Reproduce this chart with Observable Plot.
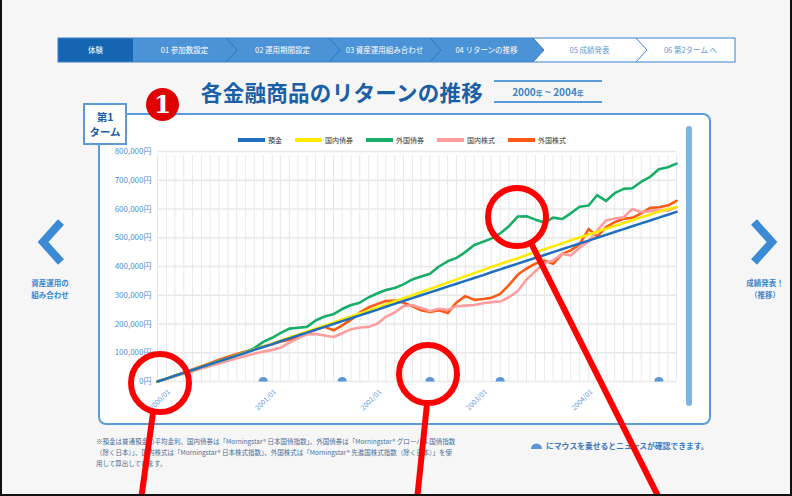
<!DOCTYPE html>
<html><head><meta charset="utf-8">
<script src="https://cdn.jsdelivr.net/npm/d3@7"></script>
<script src="https://cdn.jsdelivr.net/npm/@observablehq/plot@0.6"></script>
<style>
html,body{margin:0;padding:0;}
body{width:792px;height:496px;position:relative;overflow:hidden;background:#f6f6f6;font-family:"Noto Sans CJK JP","Noto Sans",sans-serif;}
.a{position:absolute;}
#frame{left:0;top:0;width:792px;height:496px;box-sizing:border-box;border-left:2px solid #111;border-right:2px solid #111;border-bottom:2px solid #111;pointer-events:none;z-index:50;}
#box{left:98px;top:113px;width:613px;height:312px;box-sizing:border-box;border:2px solid #5b9bd8;border-radius:8px;background:#fff;}
#term{left:83px;top:103px;width:44px;height:42px;box-sizing:border-box;border:2px solid #5b9bd8;background:#fff;color:#1a5fa8;font-weight:700;font-size:10.5px;text-align:center;padding-top:4px;z-index:5;}
#term div{height:15px;line-height:15px;}
#badge{left:146px;top:88px;width:33px;height:33px;border-radius:50%;background:#e10000;color:#fff;font-family:"DejaVu Serif",serif;font-weight:700;font-size:25px;line-height:33px;text-align:center;}
#title{left:196px;top:76px;width:292px;text-align:center;font-size:21.5px;font-weight:700;color:#1b5fa6;letter-spacing:0.3px;line-height:32px;}
#period{left:494px;top:80px;width:108px;height:23px;box-sizing:border-box;border-top:2px solid #5b9bd8;border-bottom:2px solid #5b9bd8;text-align:center;color:#3d85c6;font-weight:700;font-size:10px;line-height:19px;}
#period small{font-size:7px;}
#legend{left:238px;top:135px;display:flex;font-size:7px;color:#333;line-height:10px;}
.li{display:flex;align-items:center;margin-right:13px;}
.sw{width:27px;height:4px;margin-right:3px;}
#chart{left:98px;top:120px;}
#scroll{left:686px;top:126px;width:6px;height:280px;border-radius:3px;background:#7fb3e3;}
.nav-t{font-size:7.5px;color:#3a86cf;font-weight:700;text-align:center;line-height:12px;}
#note{left:96px;top:436px;font-size:6.5px;line-height:11px;color:#4a6f98;white-space:nowrap;}
#hint{left:530px;top:440px;font-size:7.8px;color:#3a78bf;font-weight:700;display:flex;align-items:center;}
</style></head>
<body>
<svg class="a" id="nav" style="left:0;top:0" width="792" height="80"></svg>
<div class="a" id="title">各金融商品のリターンの推移</div>
<div class="a" id="period">2000<small>年</small> ~ 2004<small>年</small></div>
<div class="a" id="box"></div>
<div class="a" id="term"><div>第1</div><div>ターム</div></div>
<div class="a" id="badge">1</div>
<div class="a" id="legend"></div>
<div class="a" id="chart"></div>
<div class="a" id="scroll"></div>
<svg class="a" style="left:30px;top:215px" width="40" height="55"><polyline points="31,7 13,27 31,47" fill="none" stroke="#3b8ad6" stroke-width="8"/></svg>
<div class="a nav-t" style="left:20px;top:277px;width:60px">資産運用の<br>組み合わせ</div>
<svg class="a" style="left:745px;top:215px" width="40" height="55"><polyline points="9,7 27,27 9,47" fill="none" stroke="#3b8ad6" stroke-width="8"/></svg>
<div class="a nav-t" style="left:735px;top:277px;width:60px">成績発表！<br>（推移）</div>
<div class="a" id="note">※預金は普通預金の平均金利、国内債券は「Morningstar® 日本国債指数」、外国債券は「Morningstar® グローバル国債指数<br>（除く日本）」、国内株式は「Morningstar® 日本株式指数」、外国株式は「Morningstar® 先進国株式指数（除く日本）」を使<br>用して算出しています。</div>
<div class="a" id="hint"><svg width="13" height="8" style="margin-right:3px"><path d="M1,7 A5.5,5.5 0 0 1 12,7 Z" fill="#5b96d4"/></svg>にマウスを乗せるとニュースが確認できます。</div>
<svg class="a" id="ann" style="left:0;top:0;z-index:40;pointer-events:none" width="792" height="496"></svg>
<div class="a" id="frame"></div>
<script>
// ---- data (values in thousand yen, monthly 2000/01 – 2004/12) ----
const seriesNames = ["預金", "国内債券", "外国債券", "国内株式", "外国株式"];
const seriesColors = ["#1f6fbf", "#ffea00", "#19ad6a", "#ff9d9d", "#ff5a14"];
const deposit = [0,10,20,30,40,50,60,70,80,90,100,110,120,130,140,150,160,170,180,190,200,210,220,230,240,250,260,270,280,290,300,310,320,330,340,350,360,370,380,390,400,410,420,430,440,450,460,470,480,490,500,510,520,530,540,550,560,570,580,590];
const domesticBond = [0,10,20,30,40,50,60,70,80,91,101,111,122,132,142,153,163,174,184,195,205,216,226,237,247,258,268,279,290,300,311,322,333,344,355,366,377,388,398,409,419,429,440,450,460,470,480,491,501,511,521,531,541,551,561,571,581,591,600,607];
const foreignBond = [0,10,20,30,40,50,61,71,81,91,102,116,138,152,168,184,187,190,212,226,234,252,266,274,293,307,318,325,338,355,365,375,400,418,430,450,475,486,497,515,540,574,575,563,553,570,565,585,608,612,648,628,655,670,672,695,712,738,745,758];
const domesticStock = [0,9,18,27,36,45,54,63,72,81,89,97,104,110,117,135,150,164,165,160,155,168,182,188,190,202,225,240,262,266,256,245,253,249,262,264,266,272,276,278,293,315,355,384,412,421,444,438,465,488,525,560,567,571,600,589,592,597,595,606];
const foreignStock = [0,10,20,31,42,53,64,76,86,96,104,113,122,130,138,145,155,168,180,190,178,195,215,240,258,270,280,282,274,262,248,242,248,238,275,297,284,287,291,305,335,372,393,410,421,409,444,456,478,531,504,537,554,566,569,585,604,606,612,628];
const newsMonths = ["2001/01", "2001/10", "2002/08", "2003/04", "2004/10"];
const yTickValues = [0,100000,200000,300000,400000,500000,600000,700000,800000];
const xLabelMonths = ["2000/01", "2001/01", "2002/01", "2003/01", "2004/01"];

const seriesValues = [deposit, domesticBond, foreignBond, domesticStock, foreignStock];
const parseM = d3.utcParse("%Y/%m");
const dates = d3.utcMonth.range(parseM("2000/01"), parseM("2005/01"));
const table = seriesNames.map((name, k) => seriesValues[k].map((v, i) => ({name, date: dates[i], value: v * 1000})));

// legend
const lg = document.getElementById("legend");
seriesNames.forEach((n, k) => {
  const d = document.createElement("div"); d.className = "li";
  d.innerHTML = `<div class="sw" style="background:${seriesColors[k]}"></div>${n}`;
  lg.appendChild(d);
});

// half circle symbol for news markers
const halfCircle = {draw(ctx, size) { const r = Math.sqrt(size / Math.PI); ctx.moveTo(-r, 0); ctx.arc(0, 0, r, Math.PI, 2 * Math.PI); ctx.closePath(); }};

const axisColor = "#4a8fd6";
const grid = "#e8e8e8";
const chart = Plot.plot({
  width: 600, height: 301,
  marginLeft: 59, marginRight: 22, marginTop: 31, marginBottom: 40,
  x: {type: "utc", domain: [dates[0], dates[59]], axis: null},
  y: {domain: [0, 800000]},
  style: {background: "transparent", fontFamily: "'Noto Sans CJK JP', sans-serif", fontSize: "8px", color: axisColor, overflow: "visible"},
  marks: [
    Plot.ruleX(dates, {y1: 0, y2: 800000, insetBottom: -4, stroke: grid, strokeWidth: 1}),
    Plot.ruleY(yTickValues, {stroke: grid, strokeWidth: 1.5}),
    Plot.axisY(yTickValues, {tickSize: 0, tickPadding: 6, tickFormat: d => d3.format(",")(d) + "円", fill: axisColor, label: null}),
    Plot.text(xLabelMonths.map(parseM), {x: d => d, frameAnchor: "bottom", text: d => d3.utcFormat("%Y/%m")(d), rotate: -45, dy: 20, dx: 4, fill: "#5d9ad8", fontSize: 7}),
    ...[4, 3, 2, 1, 0].map(k => Plot.line(table[k], {x: "date", y: "value", stroke: seriesColors[k], strokeWidth: 2.6})),
    Plot.dot(newsMonths.map(parseM), {x: d => d, y: 0, r: 4.6, fill: "#5b96d4", symbol: halfCircle})
  ]
});
document.getElementById("chart").appendChild(chart);

// breadcrumb navigation
const nav = d3.select("#nav");
const nTop = 38, nBot = 62, nMid = 50, tip = 11;
const segs = [
  {a: 58, b: 133, t: "体験", fill: "#1565b2", col: "#fff", arrow: false},
  {a: 133, b: 226, t: "01 参加数設定", fill: "#4b93d6", col: "#fff", arrow: true},
  {a: 226, b: 329, t: "02 運用期間設定", fill: "#4b93d6", col: "#fff", arrow: true},
  {a: 329, b: 430, t: "03 資産運用組み合わせ", fill: "#4b93d6", col: "#fff", arrow: true},
  {a: 430, b: 533, t: "04 リターンの推移", fill: "#4b93d6", col: "#fff", arrow: true},
  {a: 533, b: 636, t: "05 成績発表", fill: "#fff", col: "#5a9ad8", arrow: true},
  {a: 636, b: 735, t: "06 第2ターム へ", fill: "#fff", col: "#5a9ad8", arrow: false}
];
nav.append("rect").attr("x", 58).attr("y", nTop).attr("width", 677).attr("height", nBot - nTop).attr("fill", "#fff");
segs.forEach(s => {
  if (s.fill !== "#fff") {
    const pts = s.arrow ? [[s.a, nTop], [s.b, nTop], [s.b + tip, nMid], [s.b, nBot], [s.a, nBot]] : [[s.a, nTop], [s.b, nTop], [s.b, nBot], [s.a, nBot]];
    nav.append("polygon").attr("points", pts.map(p => p.join(",")).join(" ")).attr("fill", s.fill);
  }
});
segs.forEach((s, i) => {
  if (s.arrow) nav.append("polyline").attr("points", `${s.b},${nTop} ${s.b + tip},${nMid} ${s.b},${nBot}`).attr("fill", "none").attr("stroke", s.fill === "#fff" ? "#3a82cc" : "#2f74bd").attr("stroke-width", 1);
  nav.append("text").attr("x", (s.a + s.b) / 2 + (i > 0 ? 5 : 0)).attr("y", nMid + 3).attr("text-anchor", "middle").attr("font-size", 7.5).attr("fill", s.col).attr("font-family", "'Noto Sans CJK JP'").text(s.t);
});
nav.append("rect").attr("x", 58).attr("y", nTop).attr("width", 677).attr("height", nBot - nTop).attr("fill", "none").attr("stroke", "#3a82cc");

// red annotation overlay
const ann = d3.select("#ann");
[[160, 383], [428, 374], [517, 217]].forEach(([cx, cy]) => ann.append("circle").attr("cx", cx).attr("cy", cy).attr("r", 29).attr("fill", "none").attr("stroke", "#ff0000").attr("stroke-width", 6));
[[153, 413, 141, 500], [427, 404, 417, 500], [532, 245, 660, 500]].forEach(([x1, y1, x2, y2]) => ann.append("line").attr("x1", x1).attr("y1", y1).attr("x2", x2).attr("y2", y2).attr("stroke", "#ff0000").attr("stroke-width", 6));
</script>
</body></html>
